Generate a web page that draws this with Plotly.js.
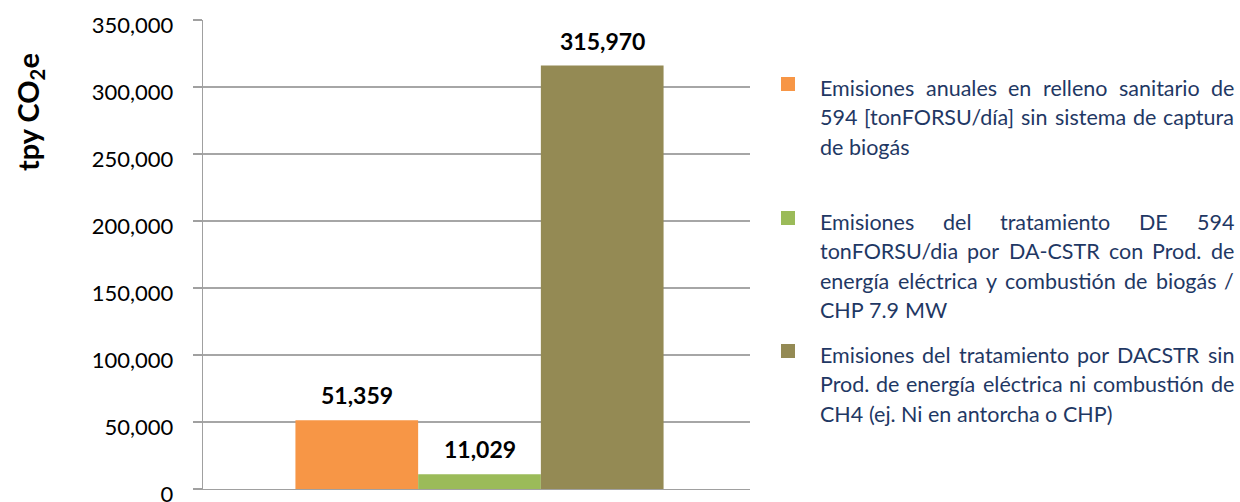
<!DOCTYPE html>
<html>
<head>
<meta charset="utf-8">
<script src="https://cdn.plot.ly/plotly-3.0.1.min.js"></script>
<style>html,body{margin:0;padding:0;background:#fff}#chart{width:1240px;height:502px}</style>
</head>
<body>
<div id="chart"></div>
<script>
// ---- data ----
const categories = ['Emisiones'];
const seriesValues = [51359, 11029, 315970];
const seriesColors = ['#F79646', '#9BBB59', '#948A54'];
const legendLines1 = ['Emisiones anuales en relleno sanitario de', '594 [tonFORSU/día] sin sistema de captura', 'de biogás'];
const legendLines2 = ['Emisiones del tratamiento DE 594', 'tonFORSU/dia por DA-CSTR con Prod. de', 'energía eléctrica y combustión de biogás /', 'CHP 7.9 MW'];
const legendLines3 = ['Emisiones del tratamiento por DACSTR sin', 'Prod. de energía eléctrica ni combustión de', 'CH4 (ej. Ni en antorcha o CHP)'];
const legendLines = [legendLines1, legendLines2, legendLines3];
const yTickVals = [0, 50000, 100000, 150000, 200000, 250000, 300000, 350000];
const yTitle = 'tpy CO<sub>2</sub>e';

// ---- layout geometry ----
const L = 203, R = 490, T = 20, B = 13, FW = 1240, FH = 502;
const PW = FW - L - R, PH = FH - T - B;
const px2x = px => (px - L) / PW;
const py2y = py => (FH - B - py) / PH;
const BARGAP = 0.327;
const barPx = PW * (1 - BARGAP) / seriesValues.length;

const FONT = 'Lato, "Open Sans", sans-serif';
const legendColor = '#1F3864';

const traces = seriesValues.map((v, i) => ({
  type: 'bar',
  x: categories,
  y: [v],
  name: legendLines[i].join(' '),
  marker: {color: seriesColors[i], line: {width: 0}},
  hoverinfo: 'skip'
}));

const annotations = [];
const shapes = [];

// data labels above bars
seriesValues.forEach((v, i) => {
  annotations.push({xref: 'x', yref: 'y', x: categories[0], y: v,
    xanchor: 'center', yanchor: 'bottom', showarrow: false,
    xshift: (i - (seriesValues.length - 1) / 2) * barPx, yshift: 9,
    text: v.toLocaleString('en-US'),
    font: {family: FONT, size: 23, color: '#000', weight: 'bold'}});
});

// ---- custom justified legend ----
const canvas = document.createElement('canvas');
const ctx = canvas.getContext('2d');
function measure(txt, size) { ctx.font = size + 'px Lato'; return ctx.measureText(txt).width; }
const textLeft = 819, textRight = 1233, textW = textRight - textLeft;
let maxW = 0;
legendLines.flat().forEach(l => { maxW = Math.max(maxW, measure(l, 100) / 100); });
const legSize = Math.min(22, Math.floor((textW - 6) / maxW * 10) / 10);

const entryFirstLine = [88, 222, 355];
const lineStep = 29.3;
legendLines.forEach((lines, ei) => {
  const sqTop = entryFirstLine[ei] - 11;
  shapes.push({type: 'rect', xref: 'paper', yref: 'paper',
    x0: px2x(781), x1: px2x(795), y0: py2y(sqTop + 14), y1: py2y(sqTop),
    fillcolor: seriesColors[ei], line: {width: 0}});
  lines.forEach((line, li) => {
    const cy = entryFirstLine[ei] + li * lineStep;
    const words = line.split(' ');
    const isLast = li === lines.length - 1;
    const widths = words.map(w => measure(w, legSize));
    const total = widths.reduce((a, b) => a + b, 0);
    const gap = (isLast || words.length < 2) ? measure(' ', legSize) : (textW - total) / (words.length - 1);
    let x = textLeft;
    words.forEach((w, wi) => {
      annotations.push({xref: 'paper', yref: 'paper', x: px2x(x), y: py2y(cy),
        xanchor: 'left', yanchor: 'middle', showarrow: false, borderpad: 0,
        text: w, font: {family: FONT, size: legSize, color: legendColor}});
      x += widths[wi] + gap;
    });
  });
});

annotations.push({xref: 'paper', yref: 'paper', x: px2x(30), y: py2y(112),
  xanchor: 'center', yanchor: 'middle', showarrow: false, textangle: -90,
  text: yTitle, font: {family: FONT, size: 29, color: '#000', weight: 'bold'}});

const layout = {
  width: FW, height: FH,
  margin: {l: L, r: R, t: T, b: B, pad: 0},
  paper_bgcolor: '#fff', plot_bgcolor: '#fff',
  barmode: 'group', bargap: BARGAP, bargroupgap: 0,
  showlegend: false,
  xaxis: {showticklabels: false, ticks: '', showgrid: false, zeroline: false,
    range: [-0.5 - 3 / PW, 0.5 - 3 / PW],
    showline: true, linecolor: '#A0A0A0', linewidth: 1.3, fixedrange: true},
  yaxis: {range: [0, 350000], tickvals: yTickVals, tickformat: ',',
    ticks: 'outside', ticklen: 9, tickcolor: '#A0A0A0', tickwidth: 1.3,
    showline: true, linecolor: '#A0A0A0', linewidth: 1.3,
    showgrid: true, gridcolor: '#A6A6A6', gridwidth: 1.3, zeroline: false,
    ticklabelstandoff: 15, ticklabelshift: 5, ticklabeloverflow: 'allow',
    tickfont: {family: FONT, size: 22, color: '#000'}, fixedrange: true},
  annotations: annotations,
  shapes: shapes
};

Plotly.newPlot('chart', traces, layout, {displayModeBar: false, staticPlot: true});
</script>
</body>
</html>
